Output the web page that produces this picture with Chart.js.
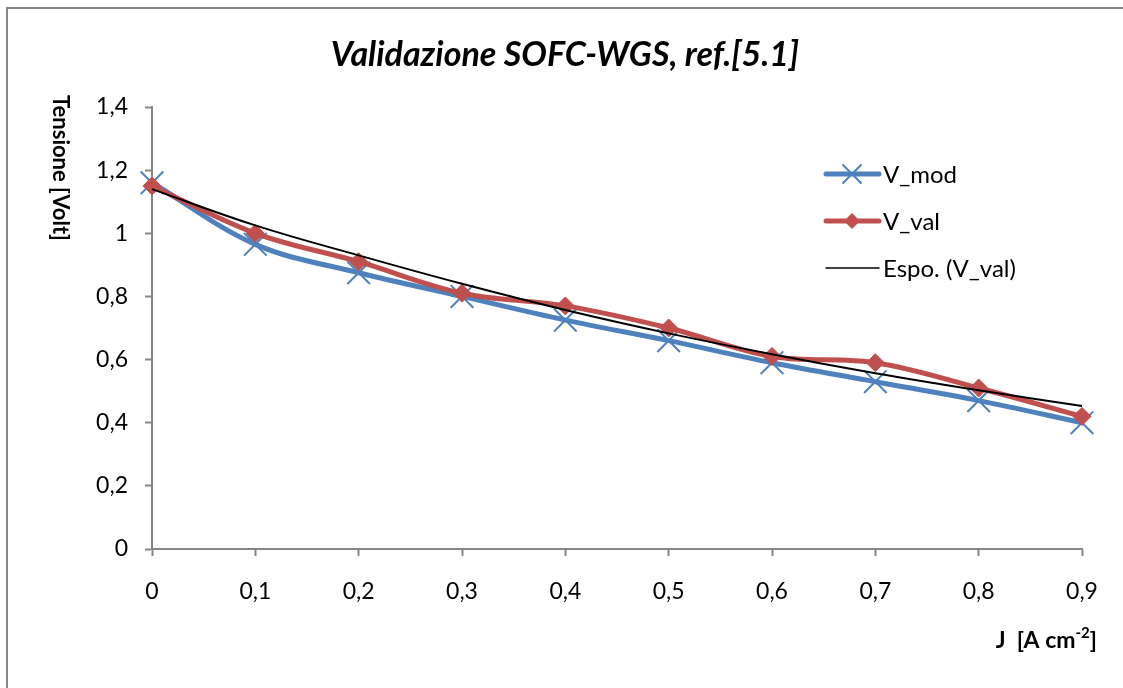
<!DOCTYPE html>
<html>
<head>
<meta charset="utf-8">
<title>Validazione SOFC-WGS</title>
<script src="https://cdn.jsdelivr.net/npm/chart.js@4.4.1/dist/chart.umd.min.js"></script>
<style>
  html, body { margin: 0; padding: 0; background: #fff; overflow: hidden; }
  canvas { display: block; }
</style>
</head>
<body>
<canvas id="sofc-chart" width="1123" height="688"></canvas>
<script>
// current density J [A cm-2]
const currentDensity = ['0', '0,1', '0,2', '0,3', '0,4', '0,5', '0,6', '0,7', '0,8', '0,9'];
// cell voltage [Volt]
const vMod = [1.16, 0.965, 0.875, 0.80, 0.725, 0.66, 0.59, 0.53, 0.47, 0.40];
const vVal = [1.15, 1.00, 0.91, 0.81, 0.77, 0.70, 0.61, 0.59, 0.51, 0.42];
// exponential trend of V_val
const vValTrend = [1.14, 1.025, 0.93, 0.84, 0.757, 0.683, 0.617, 0.557, 0.503, 0.453];
const voltTicks = [0, 0.2, 0.4, 0.6, 0.8, 1.0, 1.2, 1.4];

const chartTitle = 'Validazione SOFC-WGS, ref.[5.1]';
const yTitle = 'Tensione [Volt]';

const axisGray = '#868686';
const blue = '#4F81BD';
const red = '#C0504D';
const font = 'Lato';

const fmt = v => Number(v.toFixed(1)).toString().replace('.', ',');

function drawCross(ctx, x, y, half, color, width) {
  ctx.strokeStyle = color;
  ctx.lineWidth = width;
  ctx.beginPath();
  ctx.moveTo(x - half, y - half); ctx.lineTo(x + half, y + half);
  ctx.moveTo(x - half, y + half); ctx.lineTo(x + half, y - half);
  ctx.stroke();
}

function drawDiamond(ctx, x, y, r, color) {
  ctx.fillStyle = color;
  ctx.beginPath();
  ctx.moveTo(x - r, y); ctx.lineTo(x, y - r); ctx.lineTo(x + r, y); ctx.lineTo(x, y + r);
  ctx.closePath();
  ctx.fill();
}

const decorations = {
  id: 'decorations',
  beforeDraw(chart) {
    const { ctx } = chart;
    ctx.save();
    ctx.fillStyle = '#fff';
    ctx.fillRect(0, 0, chart.width, chart.height);
    ctx.restore();
  },
  afterDraw(chart) {
    const { ctx } = chart;
    ctx.save();

    // outer frame (only the top and left edges fall inside the canvas)
    ctx.strokeStyle = '#878787';
    ctx.lineWidth = 2;
    ctx.beginPath();
    ctx.moveTo(7, chart.height);
    ctx.lineTo(7, 8);
    ctx.lineTo(chart.width, 8);
    ctx.stroke();

    ctx.fillStyle = '#000';
    ctx.textBaseline = 'alphabetic';

    // title
    ctx.font = `italic bold 34px ${font}`;
    ctx.textAlign = 'center';
    ctx.fillText(chartTitle, 565, 66);

    // y axis title, reading downwards
    ctx.save();
    ctx.translate(53, 168);
    ctx.rotate(Math.PI / 2);
    ctx.font = `bold 22px ${font}`;
    ctx.fillText(yTitle, 0, 0);
    ctx.restore();

    // x axis title with superscript
    ctx.textAlign = 'left';
    const mainFont = `bold 23px ${font}`;
    const supFont = `bold 15px ${font}`;
    ctx.font = mainFont;
    const a = 'J  [A cm', c = ']';
    const wa = ctx.measureText(a).width, wc = ctx.measureText(c).width;
    ctx.font = supFont;
    const wb = ctx.measureText('-2').width;
    let x = 1097 - (wa + wb + wc);
    ctx.font = mainFont;
    ctx.fillText(a, x, 648);
    x += wa;
    ctx.font = supFont;
    ctx.fillText('-2', x, 638);
    x += wb;
    ctx.font = mainFont;
    ctx.fillText(c, x, 648);

    // legend
    const entries = [
      { label: 'V_mod', y: 174, color: blue, width: 5, marker: 'cross' },
      { label: 'V_val', y: 221, color: red, width: 5, marker: 'diamond' },
      { label: 'Espo. (V_val)', y: 268, color: '#000', width: 1.5, marker: null }
    ];
    ctx.lineCap = 'round';
    entries.forEach(e => {
      ctx.strokeStyle = e.color;
      ctx.lineWidth = e.width;
      ctx.beginPath();
      ctx.moveTo(826, e.y);
      ctx.lineTo(879, e.y);
      ctx.stroke();
      if (e.marker === 'cross') drawCross(ctx, 852, e.y, 9, e.color, 2);
      if (e.marker === 'diamond') drawDiamond(ctx, 852, e.y, 8, e.color);
      ctx.fillStyle = '#000';
      ctx.font = `24px ${font}`;
      ctx.fillText(e.label, 883, e.y + 9);
    });

    ctx.restore();
  }
};

const ctx = document.getElementById('sofc-chart');
new Chart(ctx, {
  type: 'line',
  data: {
    labels: currentDensity,
    datasets: [
      {
        label: 'Espo. (V_val)',
        data: vValTrend,
        borderColor: '#000',
        borderWidth: 2,
        pointRadius: 0,
        tension: 0.4,
        order: 0
      },
      {
        label: 'V_val',
        data: vVal,
        borderColor: red,
        backgroundColor: red,
        borderWidth: 5,
        pointStyle: 'rectRot',
        pointRadius: 9,
        pointBorderWidth: 1,
        pointBorderColor: red,
        pointBackgroundColor: red,
        tension: 0.35,
        borderJoinStyle: 'round',
        order: 1
      },
      {
        label: 'V_mod',
        data: vMod,
        borderColor: blue,
        backgroundColor: blue,
        borderWidth: 5,
        pointStyle: 'crossRot',
        pointRadius: 16,
        pointBorderWidth: 2,
        pointBorderColor: blue,
        tension: 0.35,
        borderJoinStyle: 'round',
        order: 2
      }
    ]
  },
  options: {
    responsive: false,
    animation: false,
    events: [],
    clip: false,
    layout: { padding: { top: 107, right: 41, left: 0, bottom: 0 } },
    plugins: {
      legend: { display: false },
      title: { display: false },
      tooltip: { enabled: false }
    },
    scales: {
      x: {
        type: 'category',
        offset: false,
        grid: { drawOnChartArea: false, drawTicks: true, tickLength: 7, tickColor: axisGray, tickWidth: 2, offset: false },
        border: { color: axisGray, width: 2 },
        ticks: { color: '#000', font: { family: font, size: 23 }, padding: 22, maxRotation: 0, autoSkip: false },
        afterFit: s => { s.height = 139; }
      },
      y: {
        min: 0,
        max: 1.4,
        grid: { drawOnChartArea: false, drawTicks: true, tickLength: 7, tickColor: axisGray, tickWidth: 2 },
        border: { color: axisGray, width: 2 },
        ticks: { color: '#000', font: { family: font, size: 23 }, padding: 17, callback: v => fmt(v) },
        afterBuildTicks: s => { s.ticks = voltTicks.map(v => ({ value: v })); },
        afterFit: s => { s.width = 152; }
      }
    }
  },
  plugins: [decorations]
});
</script>
</body>
</html>
